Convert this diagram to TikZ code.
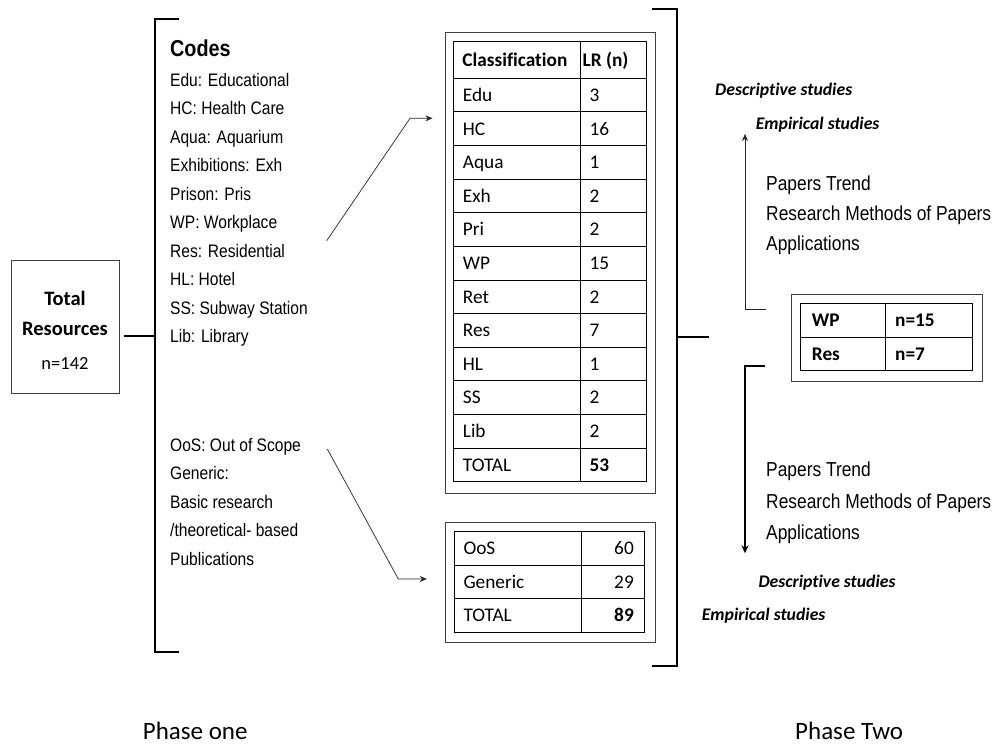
\documentclass[tikz,border=0pt]{standalone}
\usepackage{fontspec}
\setmainfont{Liberation Sans}
\newfontfamily\arn{Liberation Sans}[FakeStretch=0.86]
\newfontfamily\carl{Carlito}[Ligatures=NoCommon]
\usetikzlibrary{arrows.meta}
\begin{document}
\begin{tikzpicture}[x=1pt,y=-1pt,
  codetxt/.style={anchor=base west, inner sep=0pt, font=\arn\fontsize{18.1}{21}\selectfont},
  rtxt/.style={anchor=base west, inner sep=0pt, font=\arn\fontsize{20.2}{23}\selectfont},
  tabtxt/.style={anchor=base west, inner sep=0pt, font=\carl\fontsize{19.3}{23}\selectfont},
  tabbold/.style={anchor=base west, inner sep=0pt, font=\carl\bfseries\fontsize{19.3}{23}\selectfont},
  tabnum/.style={anchor=base east, inner sep=0pt, font=\carl\fontsize{19.3}{23}\selectfont},
  studies/.style={anchor=base west, inner sep=0pt, font=\carl\bfseries\itshape\fontsize{17.7}{21}\selectfont},
  phase/.style={anchor=base west, inner sep=0pt, font=\carl\fontsize{25}{30}\selectfont},
  brk/.style={line width=1.8pt},
  gridl/.style={line width=0.9pt},
  outerbox/.style={draw=black!75, line width=1pt, inner sep=0pt},
  conn/.style={line width=0.7pt, draw=black!85, -{Stealth[length=7pt,width=6pt]}},
  connthick/.style={line width=1.6pt, -{Stealth[length=8pt,width=7pt]}}
]
\useasboundingbox (0,0) rectangle (999,747);
\fill[white] (0,0) rectangle (999,747);

% ---------- Total resources ----------
\node[outerbox, minimum width=108pt, minimum height=133.3pt] (total) at (65,326.7) {};
\node[anchor=base, inner sep=0pt, font=\carl\bfseries\fontsize{20.5}{24}\selectfont] (tot1) at (65,305.6) {Total};
\node[anchor=base, inner sep=0pt, font=\carl\bfseries\fontsize{20.5}{24}\selectfont] (tot2) at (65,335.6) {Resources};
\node[anchor=base, inner sep=0pt, font=\carl\fontsize{18.5}{22}\selectfont] (tot3) at (65,369) {n=142};

% ---------- left bracket ----------
\draw[brk] (179,19) -- (155,19) -- (155,652) -- (179,652);
\coordinate (lbr) at (155,336);
\coordinate (te) at ([xshift=4pt]total.east);
\draw[brk] (te |- lbr) -- (lbr);

% ---------- codes ----------
\node[anchor=base west, inner sep=0pt, font=\arn\bfseries\fontsize{23}{26}\selectfont] (codes) at (170,56) {Codes};
\foreach \t [count=\i from 0] in {Edu: Educational, HC: Health Care, Aqua: Aquarium, Exhibitions: Exh, Prison: Pris, WP: Workplace, Res: Residential, HL: Hotel, SS: Subway Station, Lib: Library}
  \node[codetxt] (code\i) at (170,{86+28.5*\i}) {\t};
\foreach \t [count=\i from 0] in {OoS: Out of Scope, Generic:, Basic research, /theoretical- based, Publications}
  \node[codetxt] (oos\i) at (170,{451+28.5*\i}) {\t};

% ---------- table 1 ----------
\node[outerbox, minimum width=210pt, minimum height=460.3pt] (tab1) at (550,262.85) {};
\draw[gridl] (453,41.7) rectangle (646,481.7);
\draw[gridl] (580,41.7) -- (580,481.7);
\draw[gridl] (453,78.3) -- (646,78.3);
\foreach \i in {1,...,11}
  \draw[gridl] (453,{78.3+33.617*\i}) -- (646,{78.3+33.617*\i});
\node[tabbold] (h1) at (462.2,66.3) {Classification};
\node[tabbold] (h2) at (582.5,66.3) {LR (n)};
\foreach \n/\v [count=\i from 0] in {Edu/3, HC/16, Aqua/1, Exh/2, Pri/2, WP/15, Ret/2, Res/7, HL/1, SS/2, Lib/2, TOTAL/\textbf{53}} {
  \node[tabtxt] (r\i) at (462.7,{78.3+33.617*(\i+0.5)+6.3}) {\n};
  \node[tabtxt] (v\i) at (589.3,{78.3+33.617*(\i+0.5)+6.3}) {\v};
}

% ---------- table 2 ----------
\node[outerbox, minimum width=210pt, minimum height=120.4pt] (tab2) at (550,582.5) {};
\draw[gridl] (454.3,531) rectangle (644.3,632.3);
\draw[gridl] (581.7,531) -- (581.7,632.3);
\draw[gridl] (454.3,565) -- (644.3,565);
\draw[gridl] (454.3,598.3) -- (644.3,598.3);
\node[tabtxt] (s0) at (463.3,554.3) {OoS};
\node[tabtxt] (s1) at (463.3,588) {Generic};
\node[tabtxt] (s2) at (463.3,621.6) {TOTAL};
\node[tabnum] (w0) at (634,554.3) {60};
\node[tabnum] (w1) at (634,588) {29};
\node[tabnum] (w2) at (634,621.6) {\textbf{89}};

% ---------- arrows from codes to tables ----------
\coordinate (a1s) at (326.7,240.7);
\coordinate (a1m) at (410,118.3);
\draw[conn, shorten >=12pt] (a1s) -- (a1m) -- (a1m -| tab1.west);
\coordinate (a2s) at (327.3,449);
\coordinate (a2m) at (398.3,579);
\draw[conn, shorten >=17.7pt] (a2s) -- (a2m) -- (a2m -| tab2.west);

% ---------- right bracket ----------
\draw[brk] (652.3,9.3) -- (676.7,9.3) -- (676.7,666) -- (652,666);
\coordinate (rbm) at (676.7,337);
\coordinate (rbe) at (709,337);
\draw[brk] (rbm) -- (rbe);

% ---------- WP / Res box ----------
\node[outerbox, minimum width=191pt, minimum height=87.4pt] (wpbox) at (886.5,338) {};
\draw[gridl] (800.7,303.3) rectangle (972.3,370.7);
\draw[gridl] (800.7,337.3) -- (972.3,337.3);
\draw[gridl] (885,303.3) -- (885,370.7);
\node[tabbold] (wp1) at (811.7,326.6) {WP};
\node[tabbold] (wp2) at (895,326.6) {n=15};
\node[tabbold] (rs1) at (811.7,360.3) {Res};
\node[tabbold] (rs2) at (895,360.3) {n=7};

% ---------- upper branch ----------
\node[studies] (desc1) at (715,95.6) {Descriptive studies};
\node[studies] (emp1) at (755.7,129.6) {Empirical studies};
\node[rtxt] (pt1) at (766,190.8) {Papers Trend};
\node[rtxt] (rm1) at (766,220.8) {Research Methods of Papers};
\node[rtxt] (ap1) at (766,250) {Applications};
\coordinate (ua0) at (766,309.3);
\coordinate (ua1) at (745,309.3);
\coordinate (ua2) at (745,134);
\draw[conn] (ua0) -- (ua1) -- (ua2);

% ---------- lower branch ----------
\coordinate (da0) at (765,366);
\coordinate (da1) at (745,366);
\coordinate (da2) at (745,553.3);
\draw[connthick] (da0) -- (da1) -- (da2);
\node[rtxt] (pt2) at (766,476.8) {Papers Trend};
\node[rtxt] (rm2) at (766,508.3) {Research Methods of Papers};
\node[rtxt] (ap2) at (766,539.5) {Applications};
\node[studies] (desc2) at (758.3,587.3) {Descriptive studies};
\node[studies] (emp2) at (701.7,620.6) {Empirical studies};

% ---------- phases ----------
\node[phase] (ph1) at (142.7,739) {Phase one};
\node[phase] (ph2) at (795,739) {Phase Two};
\end{tikzpicture}
\end{document}
